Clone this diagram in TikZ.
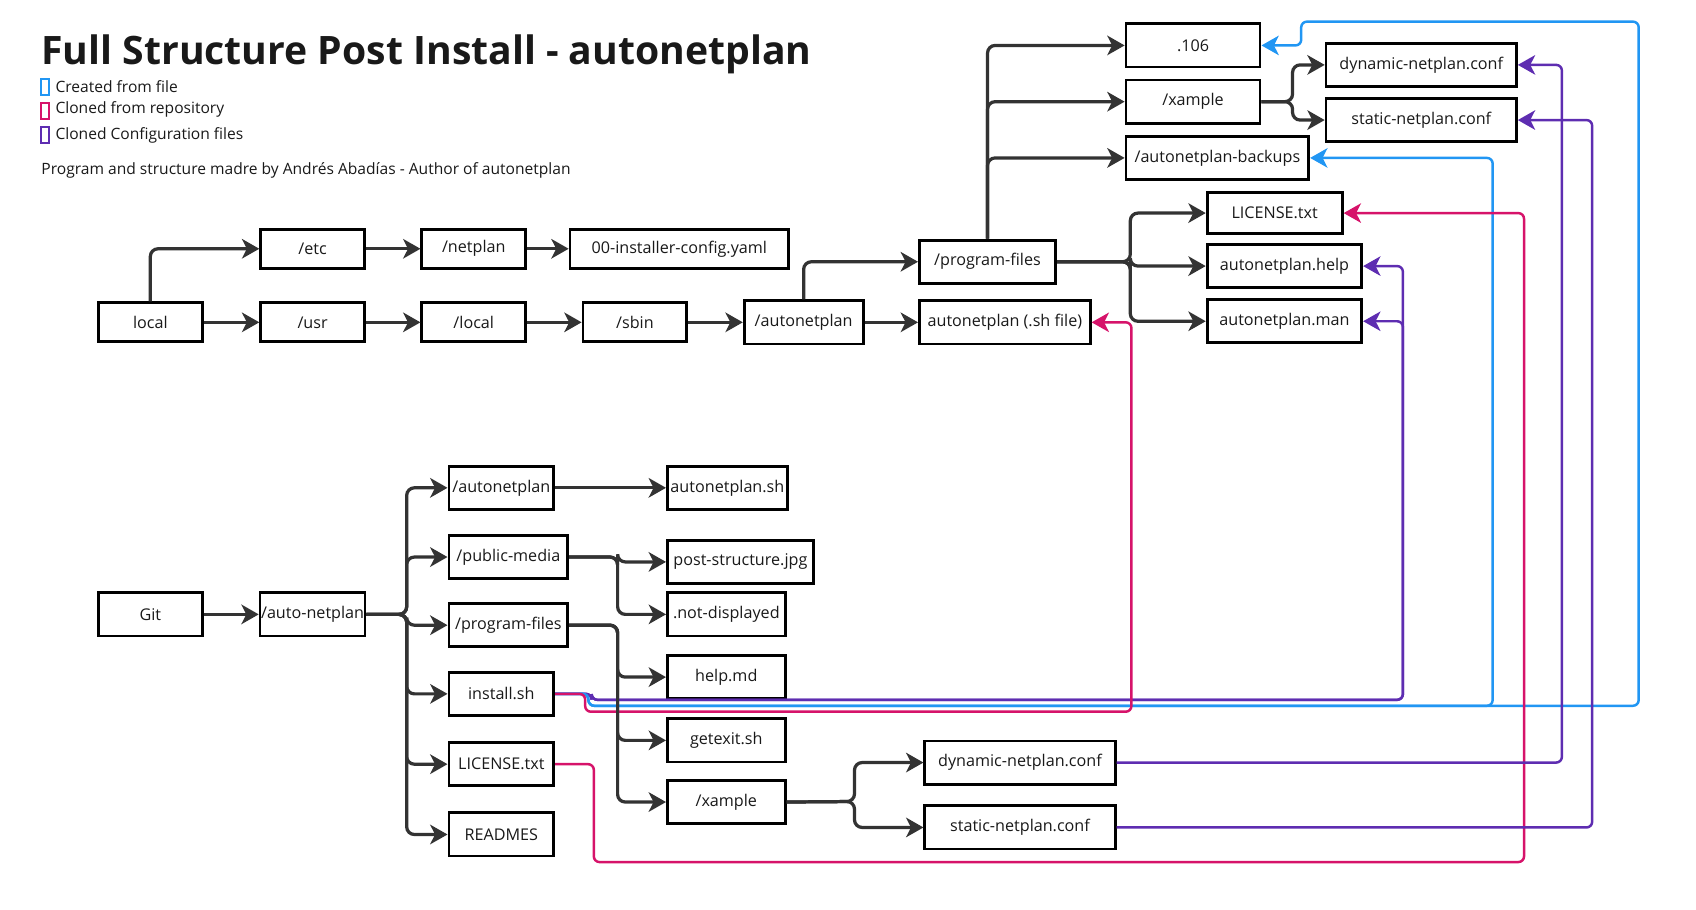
\documentclass[tikz,border=0pt]{standalone}
\usepackage{fontspec}
\setmainfont{Open Sans}
\usetikzlibrary{arrows.meta}

\definecolor{linegray}{HTML}{333333}
\definecolor{fileblue}{HTML}{2196F3}
\definecolor{repopink}{HTML}{D6136A}
\definecolor{cfgpurple}{HTML}{5E2DB1}

\begin{document}
\begin{tikzpicture}[x=0.02cm, y=-0.02cm,
    every node/.style={align=center, text=black!90},
    dirbox/.style={rectangle, draw=black, line width=1.45pt, fill=white, minimum width=#1, minimum height=0.78cm, inner xsep=0.5pt, font=\fontsize{8.5}{10}\selectfont},
    dirbox/.default=1.92cm,
    legendkey/.style={rectangle, draw=#1, line width=0.9pt, fill=white, minimum width=0.14cm, minimum height=0.3cm, inner sep=0pt},
    legendtext/.style={anchor=west, inner sep=0pt, font=\fontsize{8.2}{10}\selectfont},
    link/.style={draw=linegray, line width=1.7pt, rounded corners=4pt, -{Stealth[length=0.32cm, width=0.36cm, inset=0.09cm]}},
    created/.style={draw=fileblue, line width=1.3pt, rounded corners=3pt, -{Stealth[length=0.32cm, width=0.36cm, inset=0.09cm]}},
    cloned/.style={draw=repopink, line width=1.3pt, rounded corners=3pt, -{Stealth[length=0.32cm, width=0.36cm, inset=0.09cm]}},
    config/.style={draw=cfgpurple, line width=1.3pt, rounded corners=3pt, -{Stealth[length=0.32cm, width=0.36cm, inset=0.09cm]}}
]
    \useasboundingbox (0,0) rectangle (1568,841.3);

    % Title and legend
    \node[anchor=base west, inner sep=0pt, font=\fontsize{20.6}{24}\selectfont\bfseries] (title) at (38,60) {Full Structure Post Install - autonetplan};
    \node[legendkey=fileblue] (key_created) at (41.5,80.5) {};
    \node[legendkey=repopink] (key_cloned) at (41.5,102.5) {};
    \node[legendkey=cfgpurple] (key_config) at (41.5,125) {};
    \node[legendtext] (txt_created) at (51,80.5) {Created from file};
    \node[legendtext] (txt_cloned) at (51,101.5) {Cloned from repository};
    \node[legendtext] (txt_config) at (51,125.5) {Cloned Configuration files};
    \node[legendtext, anchor=west] (credits) at (38,157.5) {Program and structure madre by Andrés Abadías - Author of autonetplan};

    % Installed tree: /etc branch
    \node[dirbox, minimum height=0.72cm] (etc) at (289,230) {/etc};
    \node[dirbox, minimum height=0.72cm] (netplan) at (438,230) {/netplan};
    \node[dirbox=4.04cm, minimum height=0.72cm] (installer_cfg) at (628,230) {00-installer-config.yaml};

    % Installed tree: /usr branch
    \node[dirbox, minimum height=0.72cm] (local) at (139,298) {local};
    \node[dirbox, minimum height=0.72cm] (usr) at (289,298) {/usr};
    \node[dirbox, minimum height=0.72cm] (usr_local) at (438,298) {/local};
    \node[dirbox, minimum height=0.72cm] (sbin) at (587,298) {/sbin};
    \node[dirbox=2.2cm, minimum height=0.8cm] (autonetplan) at (743,298) {/autonetplan};
    \node[dirbox=2.52cm, minimum height=0.8cm] (program_files) at (913,242) {/program-files};
    \node[dirbox=3.16cm, minimum height=0.8cm] (sh_file) at (929,298) {autonetplan (.sh file)};

    % Program files content
    \node[dirbox=2.48cm, minimum height=0.8cm] (dot106) at (1103,42) {.106};
    \node[dirbox=2.48cm, minimum height=0.8cm] (xample) at (1103,94) {/xample};
    \node[dirbox=3.38cm, minimum height=0.8cm] (backups) at (1125.5,146) {/autonetplan-backups};
    \node[dirbox=3.52cm, minimum height=0.8cm] (dyn_conf) at (1314,60) {dynamic-netplan.conf};
    \node[dirbox=3.52cm, minimum height=0.8cm] (static_conf) at (1314,111) {static-netplan.conf};
    \node[dirbox=2.5cm, minimum height=0.76cm] (license) at (1178.5,197) {LICENSE.txt};
    \node[dirbox=2.86cm, minimum height=0.8cm] (help) at (1187.5,246) {autonetplan.help};
    \node[dirbox=2.86cm, minimum height=0.8cm] (man) at (1187.5,297) {autonetplan.man};

    % Repository tree
    \node[dirbox, minimum height=0.8cm] (git) at (139,568) {Git};
    \node[dirbox, minimum height=0.8cm] (auto_netplan) at (289,568) {/auto-netplan};
    \node[dirbox=1.94cm, minimum height=0.8cm] (g_autonetplan) at (463.5,451) {/autonetplan};
    \node[dirbox=2.22cm, minimum height=0.8cm] (g_autonetplan_sh) at (672.5,451) {autonetplan.sh};
    \node[dirbox=2.2cm, minimum height=0.8cm] (g_public_media) at (470,515) {/public-media};
    \node[dirbox=2.7cm, minimum height=0.8cm] (g_post_structure) at (684.5,519.5) {post-structure.jpg};
    \node[dirbox=2.18cm, minimum height=0.8cm] (g_not_displayed) at (671.5,568) {.not-displayed};
    \node[dirbox=2.2cm, minimum height=0.8cm] (g_program_files) at (470,578) {/program-files};
    \node[dirbox=2.18cm, minimum height=0.8cm] (g_help_md) at (671.5,626) {help.md};
    \node[dirbox=1.94cm, minimum height=0.8cm] (g_install) at (463.5,641.5) {install.sh};
    \node[dirbox=2.18cm, minimum height=0.8cm] (g_getexit) at (671.5,684.5) {getexit.sh};
    \node[dirbox=1.94cm, minimum height=0.8cm] (g_license) at (463.5,706.5) {LICENSE.txt};
    \node[dirbox=2.18cm, minimum height=0.8cm] (g_xample) at (671.5,741.5) {/xample};
    \node[dirbox=1.94cm, minimum height=0.8cm] (g_readmes) at (463.5,771.5) {READMES};
    \node[dirbox=3.52cm, minimum height=0.8cm] (g_dyn_conf) at (943,705) {dynamic-netplan.conf};
    \node[dirbox=3.52cm, minimum height=0.8cm] (g_static_conf) at (943,765) {static-netplan.conf};

    % Split points
    \coordinate (pf_split) at (1045,242);
    \coordinate (xa_split) at (1195,94);
    \coordinate (an_split) at (376,568);
    \coordinate (pm_split) at (571,515);
    \coordinate (gpf_split) at (571,578);
    \coordinate (gxa_split) at (790,741);

    % Colored connections (drawn first)
    \draw[config] (g_install.east) -- (547,641.5) -- (547,647) -| (1297,246) -- (help.east);
    \draw[config] (g_install.east) -- (547,641.5) -- (547,647) -| (1297,297) -- (man.east);
    \draw[created] (g_install.east) -- (544,641.5) -- (544,652.5) -| (1380,146) -- (backups.east);
    \draw[created] (g_install.east) -- (544,641.5) -- (544,652.5) -| (1515,20) -| (1203,42) -- (dot106.east);
    \draw[cloned] (g_install.east) -- (541,641.5) -- (541,658) -| (1046,298) -- (sh_file.east);
    \draw[cloned] (g_license.east) -- (549,706.5) -- (549,797) -| (1409,197) -- (license.east);
    \draw[config] (g_dyn_conf.east) -| (1444,60) -- (dyn_conf.east);
    \draw[config] (g_static_conf.east) -| (1472,111) -- (static_conf.east);

    % Connections: installed tree
    \draw[link] (local.north) |- (etc.west);
    \draw[link] (etc.east) -- (netplan.west);
    \draw[link] (netplan.east) -- (installer_cfg.west);
    \draw[link] (local.east) -- (usr.west);
    \draw[link] (usr.east) -- (usr_local.west);
    \draw[link] (usr_local.east) -- (sbin.west);
    \draw[link] (sbin.east) -- (autonetplan.west);
    \draw[link] (autonetplan.east) -- (sh_file.west);
    \draw[link] (autonetplan.north) |- (program_files.west);
    \draw[link] (program_files.north) |- (dot106.west);
    \draw[link] (program_files.north) |- (xample.west);
    \draw[link] (program_files.north) |- (backups.west);
    \draw[link] (program_files.east) -- (pf_split) |- (license.west);
    \draw[link] (program_files.east) -- (pf_split) |- (help.west);
    \draw[link] (program_files.east) -- (pf_split) |- (man.west);
    \draw[link] (xample.east) -- (xa_split) |- (dyn_conf.west);
    \draw[link] (xample.east) -- (xa_split) |- (static_conf.west);

    % Connections: repository tree
    \draw[link] (git.east) -- (auto_netplan.west);
    \foreach \child in {g_autonetplan, g_public_media, g_program_files, g_install, g_license, g_readmes}
        \draw[link] (auto_netplan.east) -- (an_split) |- (\child.west);
    \draw[link] (g_autonetplan.east) -- (g_autonetplan_sh.west);
    \draw[link] (g_public_media.east) -- (pm_split) |- (g_post_structure.west);
    \draw[link] (g_public_media.east) -- (pm_split) |- (g_not_displayed.west);
    \foreach \child in {g_help_md, g_getexit, g_xample}
        \draw[link] (g_program_files.east) -- (gpf_split) |- (\child.west);
    \draw[link] (g_xample.east) -- (gxa_split) |- (g_dyn_conf.west);
    \draw[link] (g_xample.east) -- (gxa_split) |- (g_static_conf.west);
\end{tikzpicture}
\end{document}
